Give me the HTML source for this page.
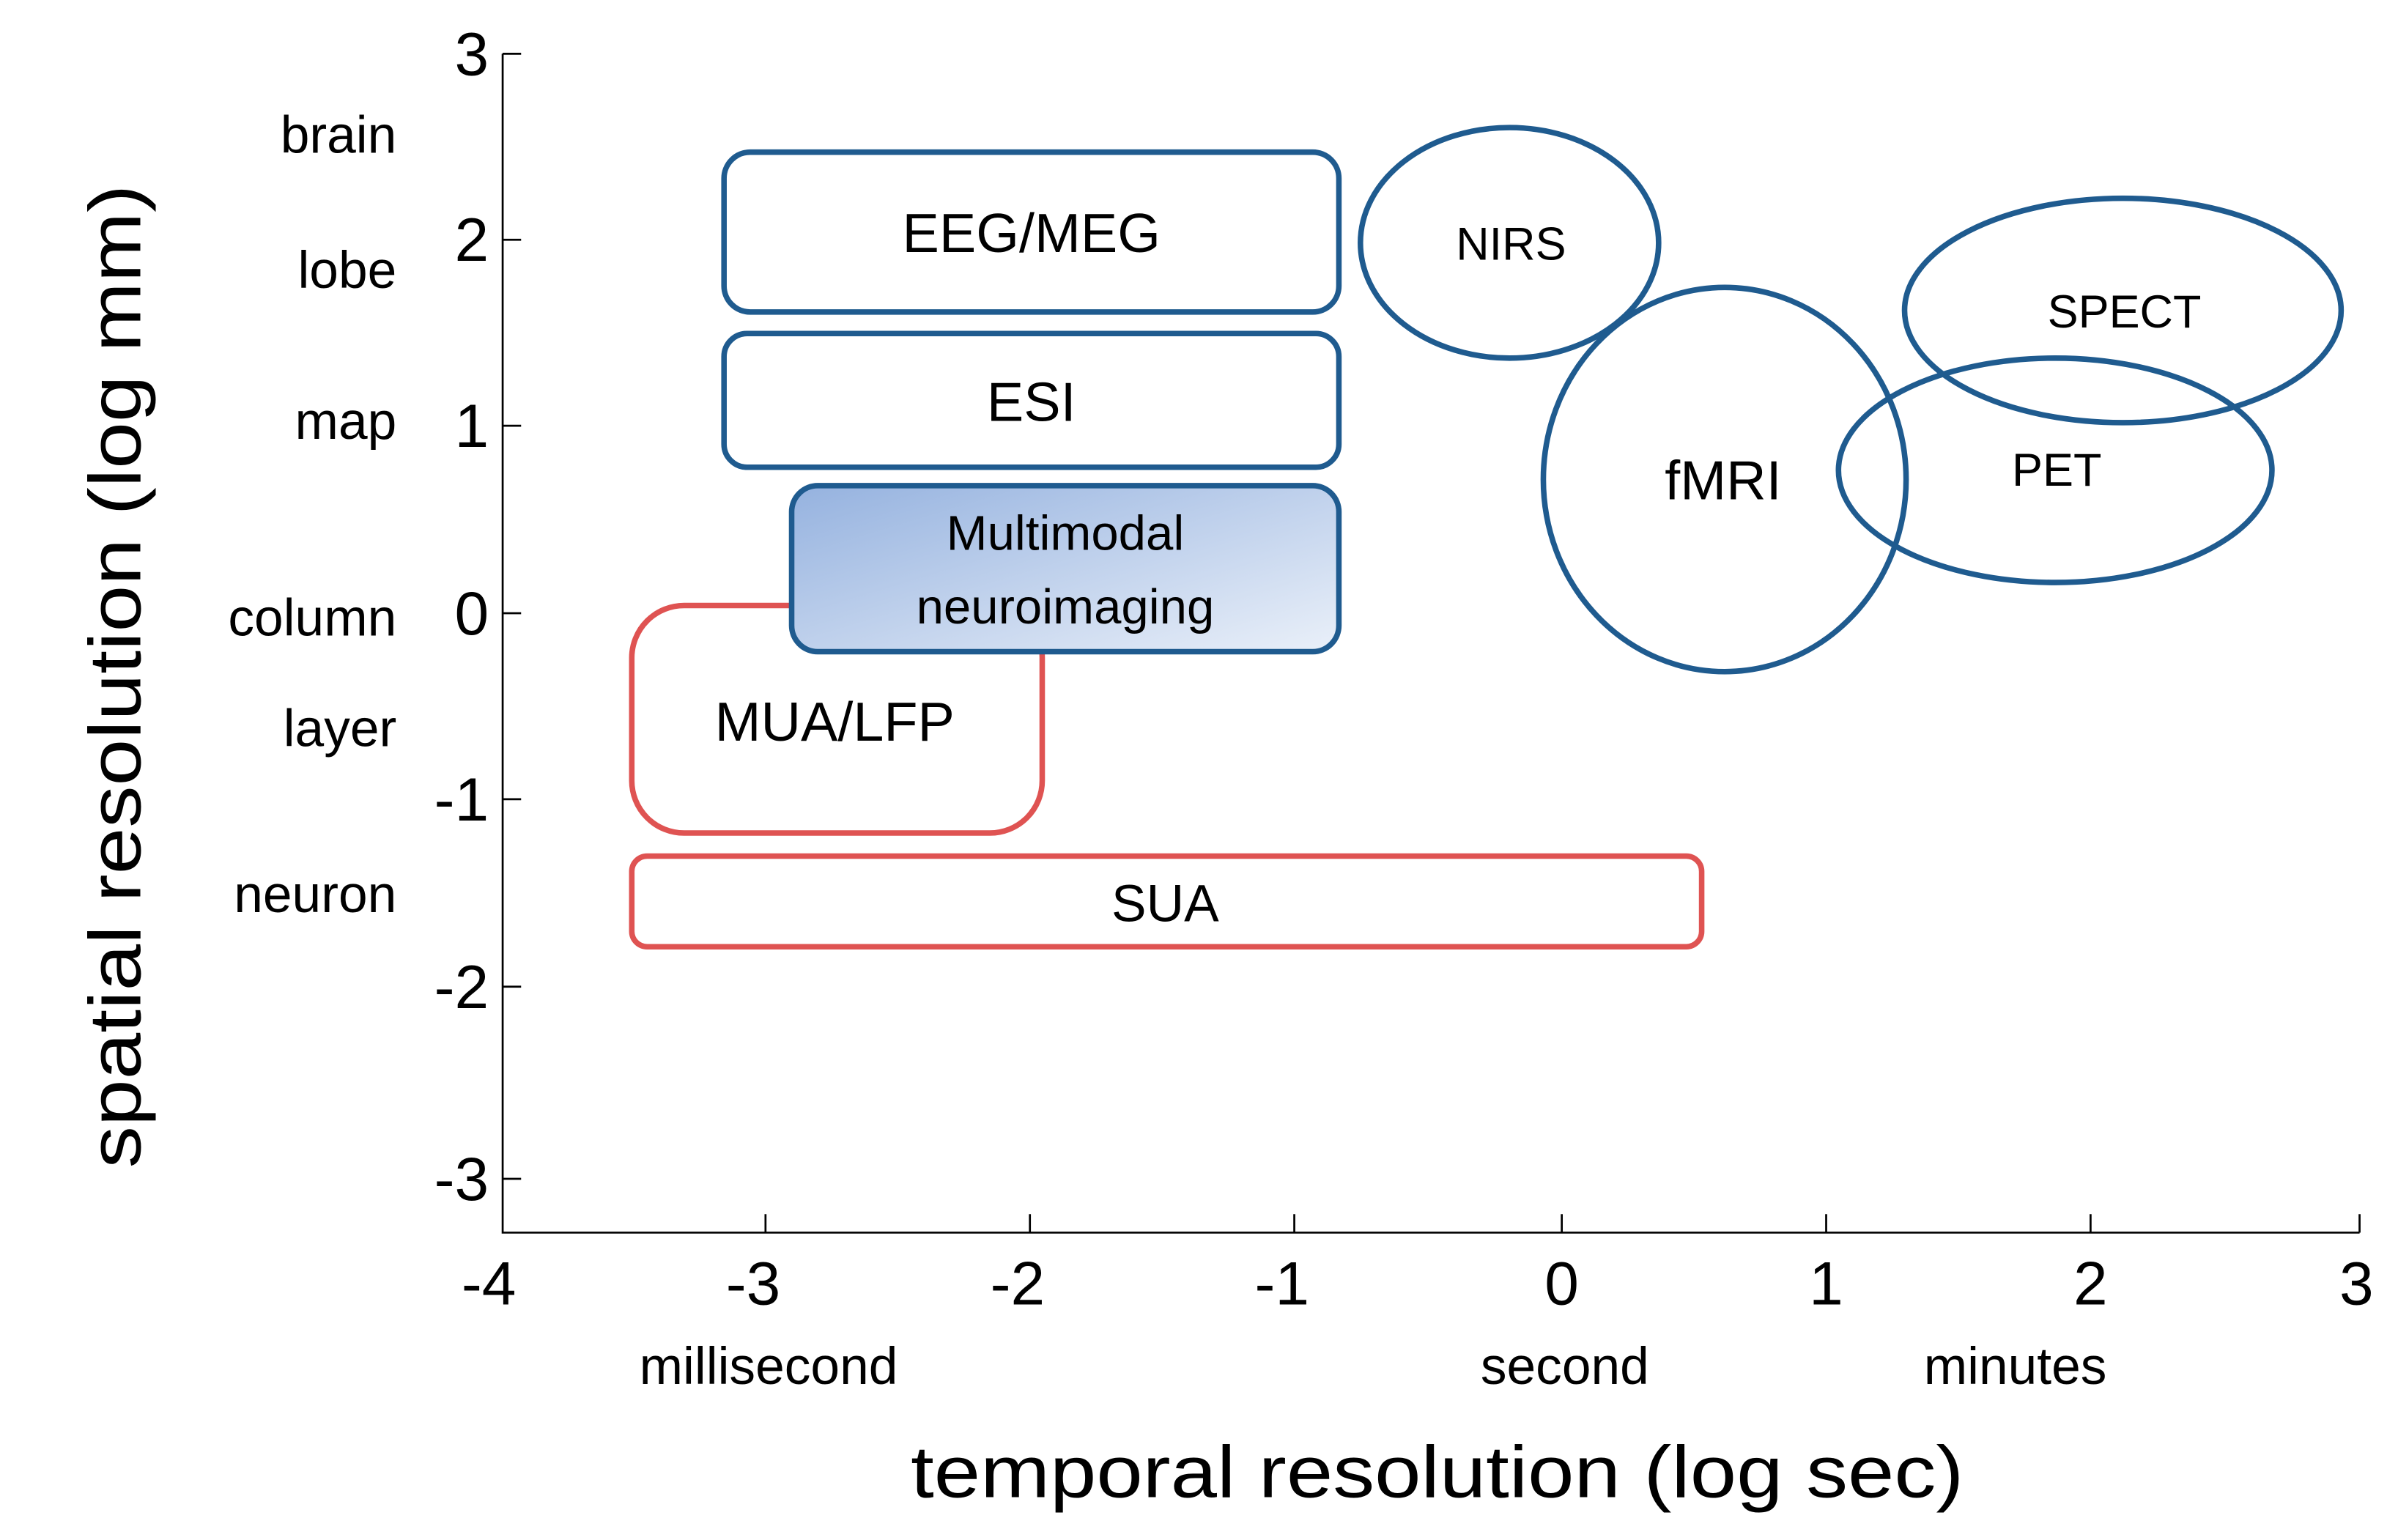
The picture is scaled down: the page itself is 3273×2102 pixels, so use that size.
<!DOCTYPE html>
<html><head><meta charset="utf-8"><style>
html,body{margin:0;padding:0;background:#fff;}
svg{display:block;}
text{font-family:"Liberation Sans",sans-serif;fill:#000;}
</style></head><body>
<svg width="3273" height="2102" viewBox="0 0 1560 1002" preserveAspectRatio="none" xmlns="http://www.w3.org/2000/svg">
<defs>
<linearGradient id="g" x1="0" y1="0" x2="1" y2="1">
<stop offset="0" stop-color="#95b2df"/><stop offset="1" stop-color="#eaf0f9"/>
</linearGradient>
</defs>
<!-- axes -->
<g stroke="#000" stroke-width="1.3" fill="none">
<path d="M327 35 V802 H1535"/>
<path d="M327 35 h12 M327 156 h12 M327 277 h12 M327 399 h12 M327 520 h12 M327 642 h12 M327 767 h12"/>
<path d="M498 802 v-12 M670 802 v-12 M842 802 v-12 M1016 802 v-12 M1188 802 v-12 M1360 802 v-12 M1535 802 v-12"/>
</g>
<g font-size="40" text-anchor="end" dominant-baseline="central">
<text x="318" y="35">3</text><text x="318" y="156">2</text><text x="318" y="277">1</text>
<text x="318" y="399">0</text><text x="318" y="520">-1</text><text x="318" y="642">-2</text><text x="318" y="767">-3</text>
</g>
<g font-size="40" text-anchor="middle" dominant-baseline="central">
<text x="318" y="835">-4</text><text x="490" y="835">-3</text><text x="662" y="835">-2</text><text x="834" y="835">-1</text>
<text x="1016" y="835">0</text><text x="1188" y="835">1</text><text x="1360" y="835">2</text><text x="1533" y="835">3</text>
</g>
<g font-size="34" text-anchor="end" dominant-baseline="central">
<text x="258" y="88">brain</text><text x="258" y="176">lobe</text><text x="258" y="274">map</text>
<text x="258" y="402">column</text><text x="258" y="474">layer</text><text x="258" y="582">neuron</text>
</g>
<g font-size="34" text-anchor="middle" dominant-baseline="central">
<text x="500" y="889">millisecond</text><text x="1018" y="889">second</text><text x="1311" y="889">minutes</text>
</g>
<text x="935" y="958" font-size="48" text-anchor="middle" dominant-baseline="central" textLength="685" lengthAdjust="spacingAndGlyphs">temporal resolution (log sec)</text>
<text transform="translate(75,440) rotate(-90)" font-size="48" text-anchor="middle" dominant-baseline="central" textLength="640" lengthAdjust="spacingAndGlyphs">spatial resolution (log mm)</text>
<!-- shapes -->
<g fill="none" stroke-width="3.6">
<rect x="411" y="394" width="267" height="148" rx="34" stroke="#df5352" fill="#fff"/>
<rect x="411" y="557" width="696" height="59" rx="10" stroke="#df5352"/>
<rect x="471" y="99" width="400" height="104" rx="17" stroke="#1f5b8f"/>
<rect x="471" y="217" width="400" height="87" rx="15" stroke="#1f5b8f"/>
<rect x="515" y="316" width="356" height="108" rx="17" stroke="#1f5b8f" fill="url(#g)"/>
<ellipse cx="982" cy="158" rx="97" ry="75" stroke="#1f5b8f"/>
<ellipse cx="1122" cy="312" rx="118" ry="125" stroke="#1f5b8f"/>
<ellipse cx="1381" cy="202" rx="142" ry="73" stroke="#1f5b8f"/>
<ellipse cx="1337" cy="306" rx="141" ry="73" stroke="#1f5b8f"/>
</g>
<g text-anchor="middle" dominant-baseline="central">
<text x="671" y="152" font-size="36">EEG/MEG</text>
<text x="671" y="262" font-size="36">ESI</text>
<text x="693" y="347" font-size="32">Multimodal</text>
<text x="693" y="395" font-size="32">neuroimaging</text>
<text x="543" y="470" font-size="36">MUA/LFP</text>
<text x="758" y="588" font-size="34">SUA</text>
<text x="983" y="159" font-size="30">NIRS</text>
<text x="1121" y="313" font-size="36">fMRI</text>
<text x="1382" y="203" font-size="30">SPECT</text>
<text x="1338" y="306" font-size="30">PET</text>
</g>
</svg>
</body></html>
